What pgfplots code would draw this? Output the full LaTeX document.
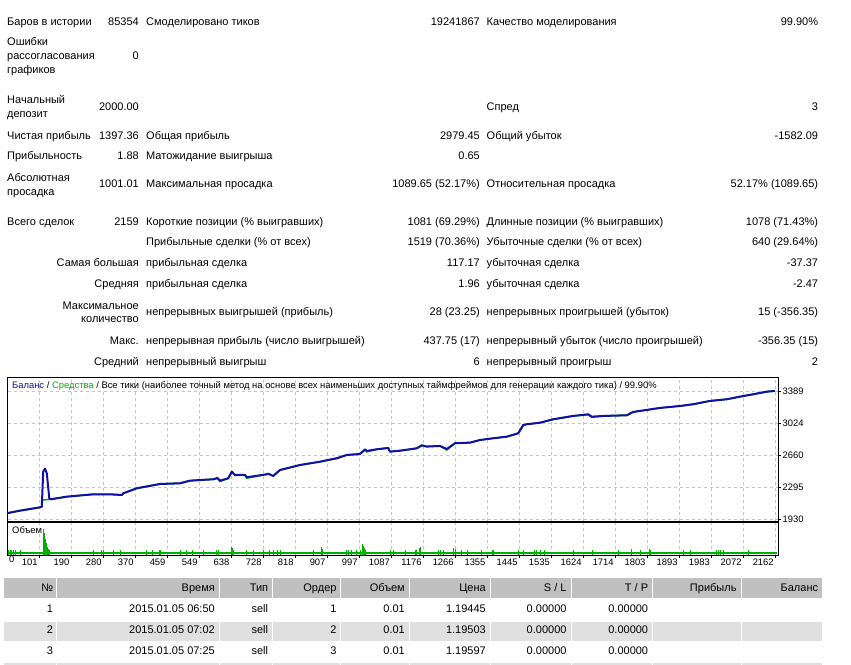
\documentclass[border=0pt]{standalone}
\usepackage{pgfplots}
\pgfplotsset{compat=1.18}
\usepackage{fontspec}
\setmainfont{Liberation Sans}

\definecolor{balblue}{RGB}{16,16,168}
\definecolor{eqgreen}{RGB}{0,176,0}
\definecolor{gridgray}{RGB}{196,196,196}
\definecolor{hdrgray}{RGB}{192,192,192}
\definecolor{rowgray}{RGB}{224,224,224}

\newcommand\statfont{\fontsize{11bp}{13bp}\selectfont}
\newcommand\chartfont{\fontsize{9.4bp}{11bp}\selectfont}
% left- and right-aligned text, y measured from the top edge
\newcommand\tl[3]{\node[anchor=mid west] at (#1,665-#2) {#3};}
\newcommand\tr[3]{\node[anchor=mid east] at (#1,665-#2) {#3};}

% balance and equity curves (trade number, account value)
\pgfplotstableread{
t B
12 2000
47 2028
103 2066
108 2073
112 2474
117 2508
122 2456
129 2169
133 2158
178 2188
252 2215
299 2215
332 2207
336 2226
374 2284
439 2333
495 2341
523 2371
588 2387
600 2402
607 2371
630 2398
640 2474
649 2436
677 2436
682 2410
738 2444
742 2451
756 2425
775 2493
831 2550
887 2588
934 2627
962 2665
999 2676
1013 2730
1018 2711
1046 2730
1078 2745
1083 2703
1111 2714
1158 2741
1172 2776
1186 2761
1223 2768
1242 2733
1265 2799
1307 2806
1335 2836
1372 2856
1410 2874
1442 2913
1456 3008
1466 3016
1503 3034
1540 3073
1596 3111
1638 3130
1648 3103
1680 3111
1746 3119
1764 3157
1802 3180
1839 3203
1895 3225
1932 3245
1979 3283
2026 3302
2063 3332
2100 3359
2138 3389
2161 3397
}\balance

\pgfplotstableread{
t E
12 2000
47 2028
103 2066
108 2073
110 2150
133 2158
178 2188
252 2215
299 2215
332 2207
336 2226
374 2284
439 2333
495 2341
523 2371
588 2387
600 2396
607 2362
630 2398
640 2470
649 2430
677 2436
682 2400
738 2444
742 2451
756 2425
775 2493
831 2550
887 2588
934 2627
962 2665
999 2676
1013 2722
1018 2700
1046 2730
1078 2745
1083 2703
1111 2714
1158 2741
1172 2770
1186 2761
1223 2768
1242 2722
1265 2799
1307 2806
1335 2836
1372 2856
1410 2874
1442 2913
1456 3000
1466 3016
1503 3034
1540 3073
1596 3111
1638 3125
1648 3095
1680 3111
1746 3119
1764 3157
1802 3180
1839 3203
1895 3225
1932 3245
1979 3283
2026 3302
2063 3332
2100 3359
2138 3389
2161 3397
}\equity

% lot sizes of the larger trades
\pgfplotstableread{
t v
14 0.03
19 0.03
24 0.03
28 0.03
33 0.03
47 0.03
112 0.16
115 0.133
118 0.10
121 0.073
123 0.05
126 0.037
129 0.03
252 0.03
276 0.03
280 0.03
308 0.03
327 0.03
402 0.03
419 0.03
437 0.03
441 0.03
495 0.03
512 0.03
531 0.03
560 0.03
596 0.03
602 0.03
638 0.05
641 0.04
644 0.03
680 0.03
702 0.03
730 0.03
745 0.03
758 0.03
767 0.03
775 0.03
868 0.03
890 0.05
893 0.035
962 0.03
966 0.03
976 0.03
990 0.03
999 0.03
1006 0.065
1009 0.055
1012 0.04
1015 0.03
1083 0.03
1092 0.03
1125 0.03
1153 0.03
1158 0.03
1165 0.045
1169 0.05
1218 0.03
1223 0.03
1233 0.03
1260 0.045
1265 0.035
1284 0.03
1299 0.03
1340 0.03
1371 0.03
1374 0.03
1442 0.03
1458 0.03
1487 0.03
1492 0.03
1505 0.03
1515 0.03
1596 0.03
1651 0.03
1722 0.03
1760 0.035
1783 0.03
1809 0.035
1813 0.03
1906 0.03
1923 0.03
1996 0.03
2002 0.03
2007 0.03
2018 0.03
2086 0.03
}\volume

\begin{document}
\begin{tikzpicture}[x=1bp,y=1bp]
\path[use as bounding box, fill=white] (0,0) rectangle (851,665);

% ---------- summary ----------
\begin{scope}[every node/.style={inner sep=0pt, font=\statfont}]
\tl{7}{22.7}{Баров в истории}
\tr{139}{22.7}{85354}
\tl{146}{22.7}{Смоделировано тиков}
\tr{480}{22.7}{19241867}
\tl{486.5}{22.7}{Качество моделирования}
\tr{818.3}{22.7}{99.90\%}

\tl{7}{43.3}{Ошибки}
\tl{7}{57}{рассогласования}
\tl{7}{70.7}{графиков}
\tr{139}{57}{0}

\tl{7}{100.7}{Начальный}
\tl{7}{115}{депозит}
\tr{139}{108}{2000.00}
\tl{486.5}{108}{Спред}
\tr{818.3}{108}{3}

\tl{7}{136.7}{Чистая прибыль}
\tr{139}{136.7}{1397.36}
\tl{146}{136.7}{Общая прибыль}
\tr{480}{136.7}{2979.45}
\tl{486.5}{136.7}{Общий убыток}
\tr{818.3}{136.7}{-1582.09}

\tl{7}{156.7}{Прибыльность}
\tr{139}{156.7}{1.88}
\tl{146}{156.7}{Матожидание выигрыша}
\tr{480}{156.7}{0.65}

\tl{7}{179}{Абсолютная}
\tl{7}{192.7}{просадка}
\tr{139}{185.3}{1001.01}
\tl{146}{185.3}{Максимальная просадка}
\tr{480}{185.3}{1089.65 (52.17\%)}
\tl{486.5}{185.3}{Относительная просадка}
\tr{818.3}{185.3}{52.17\% (1089.65)}

\tl{7}{222.7}{Всего сделок}
\tr{139}{222.7}{2159}
\tl{146}{222.7}{Короткие позиции (\% выигравших)}
\tr{480}{222.7}{1081 (69.29\%)}
\tl{486.5}{222.7}{Длинные позиции (\% выигравших)}
\tr{818.3}{222.7}{1078 (71.43\%)}

\tl{146}{243.3}{Прибыльные сделки (\% от всех)}
\tr{480}{243.3}{1519 (70.36\%)}
\tl{486.5}{243.3}{Убыточные сделки (\% от всех)}
\tr{818.3}{243.3}{640 (29.64\%)}

\tr{139}{264.3}{Самая большая}
\tl{146}{264.3}{прибыльная сделка}
\tr{480}{264.3}{117.17}
\tl{486.5}{264.3}{убыточная сделка}
\tr{818.3}{264.3}{-37.37}

\tr{139}{285.3}{Средняя}
\tl{146}{285.3}{прибыльная сделка}
\tr{480}{285.3}{1.96}
\tl{486.5}{285.3}{убыточная сделка}
\tr{818.3}{285.3}{-2.47}

\tr{139}{307.3}{Максимальное}
\tr{139}{320}{количество}
\tl{146}{313.3}{непрерывных выигрышей (прибыль)}
\tr{480}{313.3}{28 (23.25)}
\tl{486.5}{313.3}{непрерывных проигрышей (убыток)}
\tr{818.3}{313.3}{15 (-356.35)}

\tr{139}{341.7}{Макс.}
\tl{146}{341.7}{непрерывная прибыль (число выигрышей)}
\tr{480}{341.7}{437.75 (17)}
\tl{486.5}{341.7}{непрерывный убыток (число проигрышей)}
\tr{818.3}{341.7}{-356.35 (15)}

\tr{139}{362.7}{Средний}
\tl{146}{362.7}{непрерывный выигрыш}
\tr{480}{362.7}{6}
\tl{486.5}{362.7}{непрерывный проигрыш}
\tr{818.3}{362.7}{2}
\end{scope}

% ---------- balance / equity chart ----------
\begin{axis}[
  at={(7.5bp,143.5bp)}, anchor=south west,
  width=770.5bp, height=144bp, scale only axis,
  xmin=12, xmax=2169.4, ymin=1904, ymax=3551,
  axis line style={black, line width=0.9bp},
  xtick={101,190,280,370,459,549,638,728,818,907,997,1087,1176,1266,1355,1445,1535,1624,1714,1803,1893,1983,2072,2162},
  xticklabels={}, xtick style={draw=none},
  ytick={1930,2295,2660,3024,3389},
  yticklabels={1930,2295,2660,3024,3389},
  ytick pos=right, yticklabel pos=right, ytick align=outside,
  ytick style={black, line width=0.6bp}, major tick length=3bp,
  yticklabel style={font=\chartfont, inner sep=1bp, xshift=0.5bp},
  grid=major,
  grid style={gridgray, dash pattern=on 3bp off 3bp, line width=0.7bp},
  clip=true,
]
\addplot[eqgreen, line width=1.6bp] table[x=t, y=E] {\equity};
\addplot[balblue, line width=2bp, line join=round] table[x=t, y=B] {\balance};
\end{axis}
\node[anchor=mid west, inner sep=0pt, font=\chartfont] at (12,665-385.7)
  {{\color{balblue}Баланс} / {\color{eqgreen}Средства} / Все тики (наиболее точный метод на основе всех наименьших доступных таймфреймов для генерации каждого тика) / 99.90\%};

% ---------- volume chart ----------
\begin{axis}[
  at={(7.5bp,110bp)}, anchor=south west,
  width=770.5bp, height=32.7bp, scale only axis,
  xmin=12, xmax=2169.4, ymin=0, ymax=0.2,
  axis line style={black, line width=0.9bp},
  xtick={101,190,280,370,459,549,638,728,818,907,997,1087,1176,1266,1355,1445,1535,1624,1714,1803,1893,1983,2072,2162},
  xticklabels={101,190,280,370,459,549,638,728,818,907,997,1087,1176,1266,1355,1445,1535,1624,1714,1803,1893,1983,2072,2162},
  xtick pos=bottom, xtick align=outside, xtick style={black, line width=0.6bp}, major tick length=3bp,
  xticklabel style={font=\chartfont, anchor=north east, inner sep=1bp, xshift=-0.5bp},
  extra x ticks={12}, extra x tick labels={0},
  extra x tick style={grid=none, major tick length=0pt, xticklabel style={anchor=north west, xshift=1bp}},
  ytick=\empty,
  xmajorgrids,
  grid style={gridgray, dash pattern=on 3bp off 3bp, line width=0.7bp},
]
\addplot[draw=none, fill=eqgreen] coordinates {(12,0.004) (2166,0.004) (2166,0.016) (12,0.016)} -- cycle;
\addplot[ycomb, eqgreen, line width=1bp] table[x=t, y=v] {\volume};
\end{axis}
\node[anchor=mid west, inner sep=0pt, font=\chartfont] at (12,665-530.7) {Объем};

% ---------- trade list ----------
\foreach \a/\b in {4/56,57/219.3,220.3/271.7,272.7/340,341/409.3,410.3/490,491/570.7,571.7/651.7,652.7/740.7,741.7/821.7}{
  \fill[hdrgray] (\a,665-578.3) rectangle (\b,665-598.3);
  \fill[rowgray] (\a,665-621.7) rectangle (\b,665-641);
  \fill[rowgray] (\a,665-663.3) rectangle (\b,0);
}
\begin{scope}[every node/.style={inner sep=0pt, font=\statfont}]
\tr{53.3}{589}{№}
\tr{215}{589}{Время}
\tr{268.3}{589}{Тип}
\tr{336.7}{589}{Ордер}
\tr{405}{589}{Объем}
\tr{486}{589}{Цена}
\tr{566.7}{589}{S / L}
\tr{648.3}{589}{T / P}
\tr{736.7}{589}{Прибыль}
\tr{818.3}{589}{Баланс}

\tr{53.3}{610}{1}
\tr{215}{610}{2015.01.05 06:50}
\tr{268.3}{610}{sell}
\tr{336.7}{610}{1}
\tr{405}{610}{0.01}
\tr{486}{610}{1.19445}
\tr{566.7}{610}{0.00000}
\tr{648.3}{610}{0.00000}

\tr{53.3}{631}{2}
\tr{215}{631}{2015.01.05 07:02}
\tr{268.3}{631}{sell}
\tr{336.7}{631}{2}
\tr{405}{631}{0.01}
\tr{486}{631}{1.19503}
\tr{566.7}{631}{0.00000}
\tr{648.3}{631}{0.00000}

\tr{53.3}{651.7}{3}
\tr{215}{651.7}{2015.01.05 07:25}
\tr{268.3}{651.7}{sell}
\tr{336.7}{651.7}{3}
\tr{405}{651.7}{0.01}
\tr{486}{651.7}{1.19597}
\tr{566.7}{651.7}{0.00000}
\tr{648.3}{651.7}{0.00000}
\end{scope}
\end{tikzpicture}
\end{document}
